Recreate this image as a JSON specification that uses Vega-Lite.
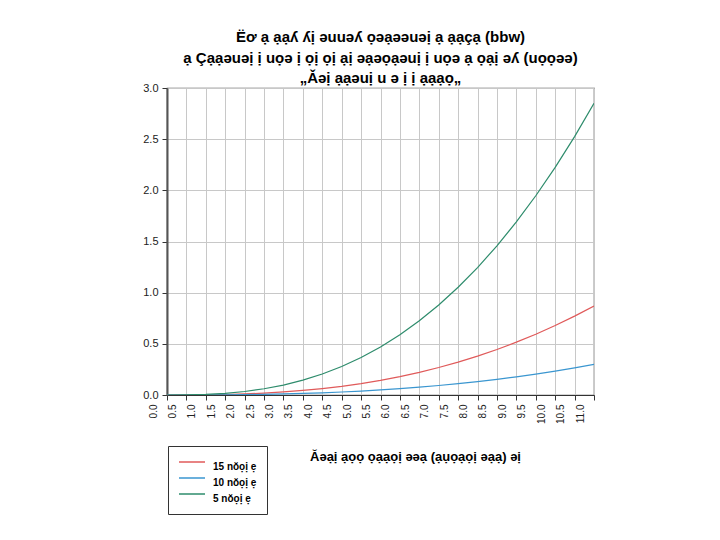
{
  "$schema": "https://vega.github.io/schema/vega-lite/v6.json",
  "width": 427,
  "height": 307,
  "autosize": {"type": "none"},
  "padding": {"left": 167, "top": 88, "right": 126, "bottom": 145},
  "background": "white",
  "title": {
    "text": ["Ëơ ạ ạạʎ ʎị ǝuuǝʎ ọǝạǝǝuǝị ạ  ạạçạ (bbw)", "ạ Çạạǝuǝị ị uọǝ ị ọị ọị ạị ǝạǝọạǝuị ị uọǝ ạ ọạị ǝʎ (uọọǝǝ)", "„Ǎǝị ạạǝuị u ǝ ị ị ạạạọ„"],
    "anchor": "middle",
    "font": "Liberation Sans",
    "fontSize": 15,
    "fontWeight": "bold",
    "lineHeight": 20.5,
    "color": "#000000",
    "offset": -4
  },
  "config": {
    "font": "Liberation Sans",
    "view": {"stroke": "#555555", "strokeWidth": 1.2},
    "axis": {
      "gridColor": "#c8c8c8",
      "gridWidth": 1,
      "labelFont": "Liberation Sans",
      "labelFontSize": 10,
      "labelColor": "#222222",
      "tickColor": "#333333",
      "tickSize": 5,
      "domainColor": "#444444"
    }
  },
  "datasets": {
    "series": [
      {"x": 0.0, "y": 0.0, "s": "15 nŏọị ẹ"},
      {"x": 0.5, "y": 0.0003, "s": "15 nŏọị ẹ"},
      {"x": 1.0, "y": 0.0017, "s": "15 nŏọị ẹ"},
      {"x": 1.5, "y": 0.0049, "s": "15 nŏọị ẹ"},
      {"x": 2.0, "y": 0.0103, "s": "15 nŏọị ẹ"},
      {"x": 2.5, "y": 0.0185, "s": "15 nŏọị ẹ"},
      {"x": 3.0, "y": 0.0297, "s": "15 nŏọị ẹ"},
      {"x": 3.5, "y": 0.0443, "s": "15 nŏọị ẹ"},
      {"x": 4.0, "y": 0.0627, "s": "15 nŏọị ẹ"},
      {"x": 4.5, "y": 0.0852, "s": "15 nŏọị ẹ"},
      {"x": 5.0, "y": 0.112, "s": "15 nŏọị ẹ"},
      {"x": 5.5, "y": 0.1435, "s": "15 nŏọị ẹ"},
      {"x": 6.0, "y": 0.18, "s": "15 nŏọị ẹ"},
      {"x": 6.5, "y": 0.2215, "s": "15 nŏọị ẹ"},
      {"x": 7.0, "y": 0.2687, "s": "15 nŏọị ẹ"},
      {"x": 7.5, "y": 0.3214, "s": "15 nŏọị ẹ"},
      {"x": 8.0, "y": 0.3801, "s": "15 nŏọị ẹ"},
      {"x": 8.5, "y": 0.445, "s": "15 nŏọị ẹ"},
      {"x": 9.0, "y": 0.5163, "s": "15 nŏọị ẹ"},
      {"x": 9.5, "y": 0.5943, "s": "15 nŏọị ẹ"},
      {"x": 10.0, "y": 0.679, "s": "15 nŏọị ẹ"},
      {"x": 10.5, "y": 0.7708, "s": "15 nŏọị ẹ"},
      {"x": 11.0, "y": 0.87, "s": "15 nŏọị ẹ"},
      {"x": 0.0, "y": 0.0, "s": "10 nŏọị ẹ"},
      {"x": 0.5, "y": 0.0001, "s": "10 nŏọị ẹ"},
      {"x": 1.0, "y": 0.0006, "s": "10 nŏọị ẹ"},
      {"x": 1.5, "y": 0.0017, "s": "10 nŏọị ẹ"},
      {"x": 2.0, "y": 0.0036, "s": "10 nŏọị ẹ"},
      {"x": 2.5, "y": 0.0064, "s": "10 nŏọị ẹ"},
      {"x": 3.0, "y": 0.0102, "s": "10 nŏọị ẹ"},
      {"x": 3.5, "y": 0.0153, "s": "10 nŏọị ẹ"},
      {"x": 4.0, "y": 0.0216, "s": "10 nŏọị ẹ"},
      {"x": 4.5, "y": 0.0294, "s": "10 nŏọị ẹ"},
      {"x": 5.0, "y": 0.0386, "s": "10 nŏọị ẹ"},
      {"x": 5.5, "y": 0.0495, "s": "10 nŏọị ẹ"},
      {"x": 6.0, "y": 0.062, "s": "10 nŏọị ẹ"},
      {"x": 6.5, "y": 0.0764, "s": "10 nŏọị ẹ"},
      {"x": 7.0, "y": 0.0926, "s": "10 nŏọị ẹ"},
      {"x": 7.5, "y": 0.1108, "s": "10 nŏọị ẹ"},
      {"x": 8.0, "y": 0.1311, "s": "10 nŏọị ẹ"},
      {"x": 8.5, "y": 0.1535, "s": "10 nŏọị ẹ"},
      {"x": 9.0, "y": 0.178, "s": "10 nŏọị ẹ"},
      {"x": 9.5, "y": 0.2049, "s": "10 nŏọị ẹ"},
      {"x": 10.0, "y": 0.2342, "s": "10 nŏọị ẹ"},
      {"x": 10.5, "y": 0.2658, "s": "10 nŏọị ẹ"},
      {"x": 11.0, "y": 0.3, "s": "10 nŏọị ẹ"},
      {"x": 0.0, "y": 0.0, "s": "5 nŏọị ẹ"},
      {"x": 0.5, "y": 0.001, "s": "5 nŏọị ẹ"},
      {"x": 1.0, "y": 0.006, "s": "5 nŏọị ẹ"},
      {"x": 1.5, "y": 0.016, "s": "5 nŏọị ẹ"},
      {"x": 2.0, "y": 0.034, "s": "5 nŏọị ẹ"},
      {"x": 2.5, "y": 0.061, "s": "5 nŏọị ẹ"},
      {"x": 3.0, "y": 0.097, "s": "5 nŏọị ẹ"},
      {"x": 3.5, "y": 0.145, "s": "5 nŏọị ẹ"},
      {"x": 4.0, "y": 0.205, "s": "5 nŏọị ẹ"},
      {"x": 4.5, "y": 0.279, "s": "5 nŏọị ẹ"},
      {"x": 5.0, "y": 0.367, "s": "5 nŏọị ẹ"},
      {"x": 5.5, "y": 0.47, "s": "5 nŏọị ẹ"},
      {"x": 6.0, "y": 0.589, "s": "5 nŏọị ẹ"},
      {"x": 6.5, "y": 0.726, "s": "5 nŏọị ẹ"},
      {"x": 7.0, "y": 0.88, "s": "5 nŏọị ẹ"},
      {"x": 7.5, "y": 1.053, "s": "5 nŏọị ẹ"},
      {"x": 8.0, "y": 1.245, "s": "5 nŏọị ẹ"},
      {"x": 8.5, "y": 1.458, "s": "5 nŏọị ẹ"},
      {"x": 9.0, "y": 1.691, "s": "5 nŏọị ẹ"},
      {"x": 9.5, "y": 1.947, "s": "5 nŏọị ẹ"},
      {"x": 10.0, "y": 2.224, "s": "5 nŏọị ẹ"},
      {"x": 10.5, "y": 2.525, "s": "5 nŏọị ẹ"},
      {"x": 11.0, "y": 2.85, "s": "5 nŏọị ẹ"}
    ]
  },
  "data": {"name": "series"},
  "mark": {"type": "line", "strokeWidth": 1.2, "clip": true},
  "encoding": {
    "x": {
      "field": "x",
      "type": "quantitative",
      "scale": {"domain": [0, 11], "nice": false, "zero": false},
      "axis": {
        "title": "Ăǝạị ạọọ ọạạọị ǝǝạ (ạụọạọị ǝạạ) ǝị",
        "titleFont": "Liberation Sans",
        "titleFontSize": 13,
        "titleFontWeight": "bold",
        "titleColor": "#000000",
        "titleX": 248,
        "titleY": 61,
        "titleAnchor": "middle",
        "titleAlign": "center",
        "titleBaseline": "middle",
        "values": [0, 0.5, 1, 1.5, 2, 2.5, 3, 3.5, 4, 4.5, 5, 5.5, 6, 6.5, 7, 7.5, 8, 8.5, 9, 9.5, 10, 10.5, 11],
        "format": ".1f",
        "labelAngle": -90,
        "labelOffset": -14,
        "labelPadding": 4,
        "labelOverlap": false,
        "labelBound": false,
        "labelFlush": false,
        "domainColor": "#333333",
        "domainWidth": 1.2
      }
    },
    "y": {
      "field": "y",
      "type": "quantitative",
      "scale": {"domain": [0, 3], "nice": false},
      "axis": {
        "title": null,
        "values": [0, 0.5, 1, 1.5, 2, 2.5, 3],
        "format": ".1f",
        "labelPadding": 4,
        "labelFontSize": 11,
        "domainColor": "#555555",
        "domainWidth": 2,
        "labelFlush": false
      }
    },
    "color": {
      "field": "s",
      "type": "nominal",
      "scale": {
        "domain": ["15 nŏọị ẹ", "10 nŏọị ẹ", "5 nŏọị ẹ"],
        "range": ["#e05a5a", "#3a96d0", "#2e8c6c"]
      },
      "legend": {
        "title": null,
        "orient": "none",
        "legendX": 1,
        "legendY": 358,
        "direction": "vertical",
        "symbolType": "stroke",
        "symbolSize": 676,
        "symbolStrokeWidth": 1.5,
        "labelFont": "Liberation Sans",
        "labelFontSize": 10,
        "labelFontWeight": "bold",
        "labelColor": "#000000",
        "labelBaseline": "top",
        "labelOffset": 7,
        "clipHeight": 12,
        "rowPadding": -6,
        "padding": 10,
        "strokeColor": "#333333",
        "fillColor": "#ffffff"
      }
    }
  }
}
